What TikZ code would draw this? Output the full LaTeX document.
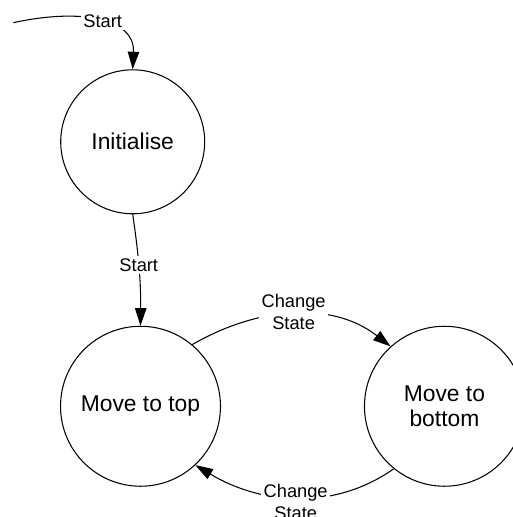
\documentclass[tikz,border=0pt]{standalone}
\usepackage{fontspec}
\setmainfont{Liberation Sans}
\usetikzlibrary{arrows.meta}
\begin{document}
\begin{tikzpicture}[x=0.02cm, y=0.02cm, line width=0.6pt,
		>={Triangle[length=10pt,width=6.5pt]},
		state/.style={draw, circle, align=center, inner sep=0pt, font=\fontsize{13}{14.7}\selectfont},
		lbl/.style={fill=white, inner sep=1.5pt, align=center, font=\fontsize{10.4}{12.3}\selectfont}]
		\useasboundingbox (0,0) rectangle (512,-517);
		\node (init) [state, minimum size=2.88cm] at (132.7,-141.8) {Initialise};
		\node (mtop) [state, minimum size=3.2cm, below of = init, node distance=5.29cm, xshift=0.156cm] {Move to top};
		\node (mbot) [state, minimum size=3.2cm, right of = mtop, node distance=6.08cm] {Move to\\bottom};
		\coordinate (src) at (13.3,-22.7);
		\draw[->] (src) .. controls (80,-8) and (135,-18) .. node[lbl, pos=0.53, yshift=0.03cm] {Start} (init.north);
		\draw[->] (init.south) .. controls (138,-250) and (141,-280) .. node[lbl, yshift=0.03cm] {Start} (mtop.north);
		\draw[->] (mtop.50) .. controls +(30:75) and +(142:75) .. node[lbl, yshift=0.04cm] {Change\\State} (mbot.132.3);
		\draw[->] (mbot.231) .. controls +(215:75) and +(-31:75) .. node[lbl, yshift=-0.09cm] {Change\\State} (mtop.-47.2);
		\end{tikzpicture}
\end{document}
